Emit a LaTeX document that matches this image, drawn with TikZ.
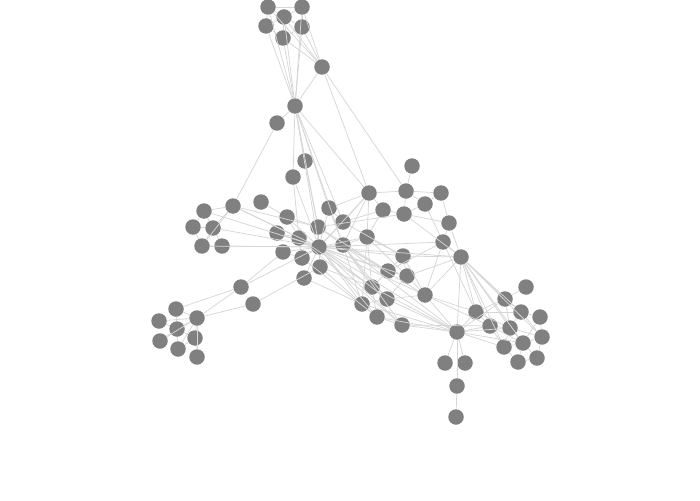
\documentclass[tikz,border=0pt]{standalone}
\usepackage{xcolor}
\definecolor{nodegray}{HTML}{808080}
\definecolor{edgegray}{HTML}{D6D6D6}
\tikzset{
    vertex/.style={circle, fill=nodegray, draw=none, inner sep=0pt, minimum size=15.5pt},
    link/.style={draw=edgegray, line width=0.75pt}
}

\begin{document}
\begin{tikzpicture}[x=1pt, y=-1pt]
    \useasboundingbox (0,0) rectangle (700,500);

    \foreach \n/\x/\y in {
        t1/268/7, t2/302/7, t3/284/17, t4/266/26, t5/302/27, t6/283/38,
        hb/322/67, hc/295/106, n1/277/123, n2/305/161, n3/293/177,
        l1/204/211, l2/233/206, l3/261/202, l4/193/227, l5/213/228, l6/202/246, l7/222/246,
        m1/287/217, m2/329/208, m3/343/222, m4/318/227, m5/277/233, m6/299/238,
        m7/319/247, m8/343/245, m9/283/252, m10/302/258, m11/320/267, m12/304/278,
        p1/241/287, p2/253/304,
        f1/176/309, f2/197/318, f3/159/321, f4/177/329, f5/195/338, f6/160/341, f7/178/349, f8/197/357,
        c1/412/166, c2/369/193, c3/406/191, c4/441/193, c5/383/210, c6/425/204,
        c7/404/214, c8/449/223, c9/367/237, c10/443/242, c11/461/257,
        d1/403/256, d2/388/271, d3/407/276, d4/372/287, d5/387/299, d6/425/295,
        d7/362/304, d8/377/317, d9/402/325,
        r1/526/287, r2/505/299, r3/476/312, r4/521/312, r5/540/317, r6/490/326, r7/510/328,
        r8/457/332, r9/542/337, r10/523/343, r11/504/347, r12/537/358, r13/518/362,
        s1/445/363, s2/465/363, s3/457/386, s4/456/417} {
        \node[vertex] (\n) at (\x,\y) {};
    }

    % top group
    \foreach \a/\b in {t1/t2, t1/t3, t1/t4, t2/t3, t2/t5, t3/t4, t3/t5, t3/t6, t4/t6, t5/t6,
        t1/hc, t2/hc, t3/hc, t4/hc, t5/hc, t6/hc, t1/hb, t3/hb, t5/hb, t6/hb, t2/hb,
        hb/hc, hb/c2, hb/c3, c1/c3,
        hc/n1, hc/n2, hc/n3, hc/m4, hc/m7, hc/m2, hc/m3, hc/c2, hc/m8,
        n1/l2, n3/m7, n2/m4, n3/m6} {
        \draw[link] (\a) -- (\b);
    }

    % left groups
    \foreach \a/\b in {l1/l2, l1/l4, l1/l5, l2/l5, l2/l6, l4/l5, l4/l6, l5/l7, l6/l7, l5/l6,
        l1/m7, l2/m7, l2/m6, l5/m7, l7/m7, l6/m7, l3/m1, l2/m4,
        m1/m4, m1/m6, m1/m7, m5/m7, m5/m6, m6/m7, m9/m7, m10/m7, m11/m7, m12/m7,
        m4/m7, m3/m7, m8/m7, m2/m7, m2/m3, m9/m10, m6/m10, m4/m8, m2/m8,
        p1/m7, p1/m9, p2/m11, p1/f2, p1/f1, p2/f2,
        f2/f1, f2/f3, f2/f4, f2/f5, f2/f6, f2/f7, f2/f8, f1/f4, f3/f4, f4/f6,
        f4/f7, f5/f7, f5/f8, f4/f5} {
        \draw[link] (\a) -- (\b);
    }

    % middle
    \foreach \a/\b in {m3/c2, m8/c2, m8/c9, m3/c5, m2/c2, m4/c7,
        m7/d1, m7/d2, m7/d3, m7/d4, m7/d5, m7/d6, m7/d7, m7/d8, m7/d9, m7/r8,
        m7/c9, m7/c2, m7/c11, m7/c10,
        m8/d2, m8/d4, m8/d7, m8/d9, m8/r8, m8/d5, m8/d6, m3/d1, m11/d7, m11/d4,
        m10/d8, m6/d4, m4/d2, m6/d9, m12/d7,
        c2/c3, c3/c4, c2/c5, c3/c6, c4/c6, c5/c7, c6/c7, c7/c8, c6/c10, c8/c10,
        c10/c11, c7/c11, c8/c11, c2/c9, c9/d1, c5/c9, c3/c7, c4/c8,
        c11/d1, c11/d3, c10/d2, d1/d3, d2/d3, d1/d2, d4/d5, d5/d6, d4/d8, d7/d8,
        d5/d7, d2/d4, d3/d6, d6/c11, d6/c10, d3/d5, d8/d9, c9/d4, c9/d7, d1/d6, c9/d3} {
        \draw[link] (\a) -- (\b);
    }

    % right group
    \foreach \a/\b in {d9/r8, d6/r8, d5/r8, d4/r8, d8/r8, d7/r8,
        c11/r2, c11/r3, c11/r6, c11/r7, c11/r11, c11/r4, c11/r8, c11/r10, c11/r9,
        r8/r3, r8/r6, r8/r7, r8/r11, r8/r2, r8/r10, r8/s1, r8/s2, r8/s3, s3/s4,
        r1/r2, r2/r4, r2/r7, r2/r3, r3/r6, r3/r7, r4/r5, r4/r7, r4/r9, r5/r9, r5/r10,
        r6/r7, r6/r11, r7/r10, r7/r9, r9/r10, r10/r11, r11/r13, r12/r13, r9/r12,
        r10/r12, r10/r13, r6/r10, r7/r11, r3/r4, d6/r3, d6/r6, d9/r6, c10/r3} {
        \draw[link] (\a) -- (\b);
    }
\end{tikzpicture}
\end{document}
